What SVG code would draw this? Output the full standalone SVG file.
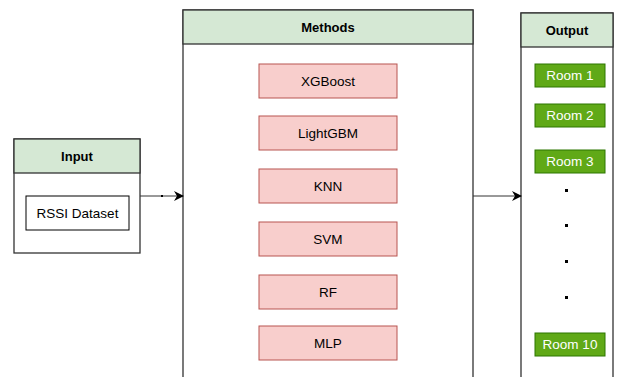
<svg xmlns="http://www.w3.org/2000/svg" width="618" height="377" viewBox="0 0 618 377">
<defs>
<marker id="arr" markerWidth="10" markerHeight="10" refX="9" refY="5" orient="auto" markerUnits="userSpaceOnUse">
<path d="M0,0 L10,5 L0,10 L3,5 Z" fill="#000"/>
</marker>
</defs>
<style>
text{font-family:"Liberation Sans",Arial,sans-serif;font-size:13.5px;text-anchor:middle;dominant-baseline:central}
.hdr{fill:#d5e8d4;stroke:#333;stroke-width:1.3}
.body{fill:#fff;stroke:#333;stroke-width:1.3}
.b{font-weight:bold;font-size:13px}
.m{fill:#f8cecc;stroke:#b85450;stroke-width:1}
.r{fill:#60a917;stroke:#2d7600;stroke-width:1}
.rt{fill:#fff}
.plain{fill:#fff;stroke:#000;stroke-width:1}
.dot{fill:#000}
.c{stroke:#333;stroke-width:1;fill:none}
</style>
<g id="input">
<rect class="body" x="14" y="139" width="126" height="114"/>
<rect class="hdr" x="14" y="139" width="126" height="34"/>
<text class="b" x="77" y="156">Input</text>
<g id="rssi">
<rect class="plain" x="26" y="196" width="103" height="34"/>
<text x="77.5" y="213">RSSI Dataset</text>
</g>
</g>
<g id="methods">
<rect class="body" x="183" y="10" width="290" height="380"/>
<rect class="hdr" x="183" y="10" width="290" height="34"/>
<text class="b" x="328" y="27">Methods</text>
</g>
<g id="xgboost"><rect class="m" x="259" y="64" width="138" height="34"/><text x="328" y="81">XGBoost</text></g>
<g id="lightgbm"><rect class="m" x="259" y="116" width="138" height="34"/><text x="328" y="133">LightGBM</text></g>
<g id="knn"><rect class="m" x="259" y="169" width="138" height="34"/><text x="328" y="186">KNN</text></g>
<g id="svm"><rect class="m" x="259" y="222" width="138" height="34"/><text x="328" y="239">SVM</text></g>
<g id="rf"><rect class="m" x="259" y="275" width="138" height="34"/><text x="328" y="292">RF</text></g>
<g id="mlp"><rect class="m" x="259" y="326" width="138" height="34"/><text x="328" y="343">MLP</text></g>
<g id="output">
<rect class="body" x="521" y="13" width="92" height="380"/>
<rect class="hdr" x="521" y="13" width="92" height="34"/>
<text class="b" x="567" y="30">Output</text>
<rect class="dot" x="565" y="189" width="3" height="3"/>
<rect class="dot" x="565" y="224" width="3" height="3"/>
<rect class="dot" x="565" y="260" width="3" height="3"/>
<rect class="dot" x="565" y="296" width="3" height="3"/>
</g>
<g id="room1"><rect class="r" x="535" y="64" width="70" height="23"/><text class="rt" x="570" y="75.5">Room 1</text></g>
<g id="room2"><rect class="r" x="535" y="104" width="70" height="23"/><text class="rt" x="570" y="115.5">Room 2</text></g>
<g id="room3"><rect class="r" x="535" y="150" width="70" height="23"/><text class="rt" x="570" y="161.5">Room 3</text></g>
<g id="room10"><rect class="r" x="535" y="333" width="70" height="23"/><text class="rt" x="570" y="344.5">Room 10</text></g>
<g id="connectors">
<path class="c" d="M140,196 L183,196" marker-end="url(#arr)"/>
<rect class="dot" x="161" y="195" width="2" height="2"/>
<path class="c" d="M473,196 L521,196" marker-end="url(#arr)"/>
</g>
</svg>
